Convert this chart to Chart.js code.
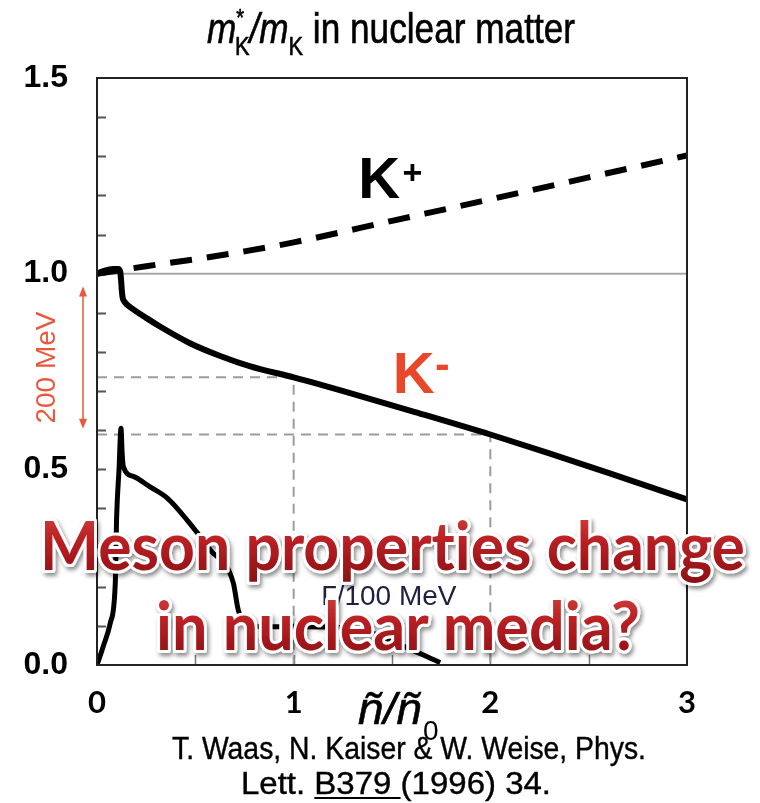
<!DOCTYPE html>
<html>
<head>
<meta charset="utf-8">
<title>Kaon effective mass in nuclear matter</title>
<script src="https://cdn.jsdelivr.net/npm/chart.js@4.4.1/dist/chart.umd.min.js"></script>
<style>
  html, body { margin: 0; padding: 0; background: #fff; }
  #wrap { position: relative; width: 760px; height: 803px; overflow: hidden; }
  #chart { position: absolute; left: 0; top: 0; }
  #labels { position: absolute; left: 0; top: 0; pointer-events: none; }
  .headline { font-variant-ligatures: none; font-feature-settings: "liga" 0, "dlig" 0; }
</style>
</head>
<body>
<div id="wrap">
  <canvas id="chart" width="760" height="803"></canvas>
  <svg id="labels" xmlns="http://www.w3.org/2000/svg" width="760" height="803"
       font-family="'Liberation Sans', Arial, sans-serif">
    <defs>
      <linearGradient id="redFill" x1="0" y1="0" x2="0" y2="1">
        <stop offset="0" stop-color="#d8463f"/>
        <stop offset="0.45" stop-color="#b92024"/>
        <stop offset="1" stop-color="#8a0f12"/>
      </linearGradient>
      <filter id="softShadow" x="-5%" y="-25%" width="112%" height="160%">
        <feDropShadow dx="2" dy="3" stdDeviation="2.2" flood-color="#000" flood-opacity="0.45"/>
      </filter>
    </defs>

    <!-- heading -->
    <text x="207" y="43" font-size="42" fill="#000" stroke="#000" stroke-width="0.6" textLength="368" lengthAdjust="spacingAndGlyphs"><tspan font-style="italic">m</tspan><tspan font-size="24" dy="-17">*</tspan><tspan font-size="26" dx="-11" dy="29">K</tspan><tspan font-style="italic" dy="-12">/m</tspan><tspan font-size="26" dy="12">K</tspan><tspan dy="-12"> in nuclear matter</tspan></text>

    <!-- density axis title -->
    <text x="358" y="724" font-size="44" font-style="italic" fill="#000" stroke="#000" stroke-width="0.6" textLength="64" lengthAdjust="spacingAndGlyphs">ñ/ñ</text>
    <text x="423" y="740" font-size="28" fill="#000">0</text>

    <!-- reference -->
    <text x="172" y="759" font-size="31" fill="#000" stroke="#000" stroke-width="0.4" textLength="474" lengthAdjust="spacingAndGlyphs">T. Waas, N. Kaiser &amp; W. Weise, Phys.</text>
    <text id="citeLine2" x="241" y="794" font-size="31" fill="#000" stroke="#000" stroke-width="0.4" textLength="310" lengthAdjust="spacingAndGlyphs">Lett. B379 (1996) 34.</text>
    <line id="citeUnderline" x1="318" y1="798" x2="384" y2="798" stroke="#000" stroke-width="2"/>

    <!-- headline question -->
    <g class="headline" filter="url(#softShadow)" font-family="Lato, 'Open Sans', sans-serif" font-weight="700" font-size="66"
       fill="url(#redFill)" stroke="#fff" stroke-width="6" stroke-linejoin="round" paint-order="stroke">
      <text x="40" y="570" textLength="705" lengthAdjust="spacingAndGlyphs">Meson properties change</text>
      <text x="156" y="650" textLength="484" lengthAdjust="spacingAndGlyphs">in nuclear media?</text>
    </g>
  </svg>
</div>

<script>
// Density in units of normal nuclear density, n/n0
const densityRange = [0, 3];
const xTickLabels = ['0', '1', '2', '3'];
const yTickLabels = ['0.0', '0.5', '1.0', '1.5'];

// K+ : effective mass ratio m*/m
const kPlusDensity = [0, 0.25, 0.5, 0.75, 1.0, 1.5, 2.0, 2.5, 3.0];
const kPlusMass    = [1.0, 1.019, 1.037, 1.057, 1.08, 1.135, 1.19, 1.246, 1.302];

// K- : effective mass ratio m*/m
const kMinusDensity = [0, 0.04, 0.08, 0.108, 0.118, 0.123, 0.126, 0.13, 0.14, 0.155, 0.17, 0.25, 0.32, 0.47, 0.63, 0.78, 1.0, 1.3, 1.6, 2.0, 2.3, 2.6, 3.0];
const kMinusMass    = [1.0, 1.008, 1.012, 1.012, 1.005, 0.98, 0.958, 0.94, 0.928, 0.92, 0.914, 0.887, 0.865, 0.823, 0.789, 0.763, 0.735, 0.693, 0.649, 0.589, 0.541, 0.491, 0.423];

// K- decay width, Gamma / 100 MeV
const widthDensity = [0, 0.03, 0.068, 0.093, 0.10, 0.112, 0.122, 0.128, 0.134, 0.185, 0.27, 0.356, 0.457, 0.576, 0.693, 0.718, 0.754, 0.813, 1.068, 1.373, 1.54, 1.745];
const widthGamma   = [0, 0.045, 0.108, 0.21, 0.38, 0.5, 0.605, 0.54, 0.507, 0.482, 0.455, 0.427, 0.371, 0.294, 0.21, 0.141, 0.11, 0.098, 0.098, 0.086, 0.052, 0.006];

const freeMass = 1.0;
const markedDensities = [1, 2];

// 200 MeV mass shift marker (m*/m range)
const shiftMarker = [0.967, 0.604];

const pts = (xs, ys) => xs.map((x, i) => ({ x: x, y: ys[i] }));

const guideSets = markedDensities.map(d => {
  const m = kMinusMass[kMinusDensity.indexOf(d)];
  return {
    data: [{ x: densityRange[0], y: m }, { x: d, y: m }, { x: d, y: 0 }],
    borderColor: '#9c9c9c', borderWidth: 2, borderDash: [10, 7], tension: 0, order: 2
  };
});

const frameAndLabels = {
  id: 'frameAndLabels',
  beforeDatasetsDraw(chart) {
    const { ctx, chartArea: a, scales: { x, y } } = chart;
    ctx.save();
    ctx.strokeStyle = '#555';
    ctx.lineWidth = 2;
    // inward minor ticks on the mass axis
    for (let k = 1; k <= 14; k++) {
      const py = Math.round(y.getPixelForValue(k / 10)) + 0.5;
      ctx.beginPath(); ctx.moveTo(a.left, py); ctx.lineTo(a.left + 9, py); ctx.stroke();
    }
    // inward ticks on the density axis
    ctx.strokeStyle = '#777';
    ctx.lineWidth = 1.5;
    for (let k = 1; k <= 5; k++) {
      const px = Math.round(x.getPixelForValue(k / 2)) + 0.5;
      ctx.beginPath(); ctx.moveTo(px, a.bottom); ctx.lineTo(px, a.bottom - 10); ctx.stroke();
    }
    ctx.restore();
  },
  afterDatasetsDraw(chart) {
    const { ctx, chartArea: a, scales: { x, y } } = chart;
    ctx.save();
    // plot frame
    ctx.strokeStyle = '#222';
    ctx.lineWidth = 2;
    ctx.strokeRect(a.left, a.top, a.right - a.left, a.bottom - a.top);

    // curve labels
    ctx.textBaseline = 'alphabetic';
    ctx.textAlign = 'left';
    ctx.fillStyle = '#000';
    ctx.font = 'bold 58px "Liberation Sans", Arial, sans-serif';
    ctx.fillText('K', x.getPixelForValue(1.328), y.getPixelForValue(1.194));
    ctx.font = 'bold 34px "Liberation Sans", Arial, sans-serif';
    ctx.fillText('+', x.getPixelForValue(1.553), y.getPixelForValue(1.228));

    ctx.fillStyle = '#e8472a';
    ctx.font = 'bold 58px "Liberation Sans", Arial, sans-serif';
    ctx.fillText('K', x.getPixelForValue(1.504), y.getPixelForValue(0.695));
    ctx.font = 'bold 44px "Liberation Sans", Arial, sans-serif';
    ctx.fillText('-', x.getPixelForValue(1.719), y.getPixelForValue(0.732));

    ctx.fillStyle = '#202040';
    ctx.font = '28px "Liberation Sans", Arial, sans-serif';
    ctx.fillText('\u0393/100 MeV', x.getPixelForValue(1.14), y.getPixelForValue(0.154));

    // 200 MeV shift marker
    const red = '#e9573d';
    const ax = a.left - 14;
    const yTop = y.getPixelForValue(shiftMarker[0]);
    const yBot = y.getPixelForValue(shiftMarker[1]);
    ctx.strokeStyle = red;
    ctx.fillStyle = red;
    ctx.lineWidth = 1.5;
    ctx.beginPath(); ctx.moveTo(ax, yTop + 6); ctx.lineTo(ax, yBot - 6); ctx.stroke();
    ctx.beginPath(); ctx.moveTo(ax, yTop); ctx.lineTo(ax - 4, yTop + 10); ctx.lineTo(ax + 4, yTop + 10); ctx.closePath(); ctx.fill();
    ctx.beginPath(); ctx.moveTo(ax, yBot); ctx.lineTo(ax - 4, yBot - 10); ctx.lineTo(ax + 4, yBot - 10); ctx.closePath(); ctx.fill();

    ctx.save();
    ctx.translate(a.left - 42, y.getPixelForValue(0.76));
    ctx.rotate(-Math.PI / 2);
    ctx.textAlign = 'center';
    ctx.font = '28px "Liberation Sans", Arial, sans-serif';
    ctx.fillText('200 MeV', 0, 0);
    ctx.restore();

    ctx.restore();
  }
};

new Chart(document.getElementById('chart'), {
  type: 'line',
  data: {
    datasets: [
      { data: pts(kPlusDensity, kPlusMass), borderColor: '#000', borderWidth: 6,
        borderDash: [22, 15], cubicInterpolationMode: 'monotone', order: 0 },
      { data: pts(kMinusDensity, kMinusMass), borderColor: '#000', borderWidth: 6,
        cubicInterpolationMode: 'monotone', order: 0 },
      { data: pts(widthDensity, widthGamma), borderColor: '#000', borderWidth: 5,
        cubicInterpolationMode: 'monotone', order: 0 },
      { data: [{ x: densityRange[0], y: freeMass }, { x: densityRange[1], y: freeMass }],
        borderColor: '#a8a8a8', borderWidth: 2, tension: 0, order: 1 },
      ...guideSets
    ]
  },
  options: {
    responsive: false,
    animation: false,
    events: [],
    layout: { padding: { left: 0, top: 78, right: 73, bottom: 0 } },
    elements: { point: { radius: 0 }, line: { fill: false, borderCapStyle: 'butt', borderJoinStyle: 'round' } },
    plugins: { legend: { display: false }, tooltip: { enabled: false }, title: { display: false } },
    scales: {
      x: {
        type: 'linear', min: densityRange[0], max: densityRange[1],
        grid: { display: false, drawTicks: false }, border: { display: false },
        ticks: {
          stepSize: 1, padding: 19, color: '#000', maxRotation: 0, autoSkip: false,
          font: { family: 'Lato, "Open Sans", sans-serif', weight: 'bold', size: 31 },
          callback: v => xTickLabels[v] ?? ''
        },
        afterFit(s) { s.height = 138; }
      },
      y: {
        type: 'linear', min: 0, max: 1.5,
        grid: { display: false, drawTicks: false }, border: { display: false },
        ticks: {
          stepSize: 0.5, padding: 29, color: '#000', autoSkip: false,
          font: { family: '"Liberation Sans", Arial, sans-serif', weight: 'bold', size: 32 },
          callback: v => yTickLabels[Math.round(v * 2)] ?? ''
        },
        afterFit(s) { s.width = 97; }
      }
    }
  },
  plugins: [frameAndLabels]
});

// underline the volume number "B379 " in the reference line
(function () {
  const t = document.getElementById('citeLine2');
  const u = document.getElementById('citeUnderline');
  try {
    const x1 = t.getStartPositionOfChar(6).x;
    const x2 = t.getEndPositionOfChar(10).x;
    u.setAttribute('x1', x1);
    u.setAttribute('x2', x2);
  } catch (e) { /* keep default placement */ }
})();
</script>
</body>
</html>
